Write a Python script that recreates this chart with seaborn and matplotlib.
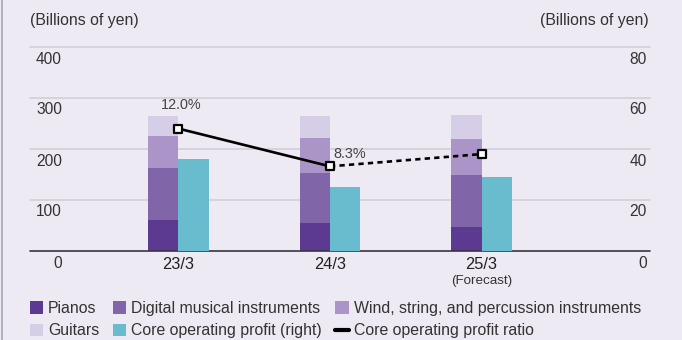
import matplotlib
matplotlib.use("Agg")
import matplotlib.pyplot as plt
from matplotlib.patches import Patch
from matplotlib.lines import Line2D
from matplotlib.transforms import offset_copy, blended_transform_factory
import numpy as np
import seaborn as sns

# Fiscal periods and segment revenue (billions of yen)
periods = ["23/3", "24/3", "25/3"]
pianos = [61, 55, 47]
digital = [102, 98, 103]
wind = [62, 69, 69]
guitars = [40, 43, 47]
# Core operating profit (billions of yen, right axis) and ratio (%)
core_profit = [36, 25, 29]
profit_ratio = [12.0, 8.3, 9.5]
ratio_labels = ["12.0%", "8.3%", None]

left_ticks = [0, 100, 200, 300, 400]
right_ticks = [0, 20, 40, 60, 80]

BG = "#edeaf3"
TEXT = "#333333"
C_PIANO = "#5c3a92"
C_DIGITAL = "#8065a8"
C_WIND = "#ab94c8"
C_GUITAR = "#d6cde6"
C_PROFIT = "#69bccd"
GRID = "#d3cfd9"

sns.set_theme(style="white")
plt.rcParams["font.family"] = ["Liberation Sans", "DejaVu Sans"]

fig = plt.figure(figsize=(6.82, 3.40), dpi=100, facecolor=BG)
ax = fig.add_axes([30 / 682, 1 - 251 / 340, 620 / 682, 204 / 340])
ax.set_facecolor(BG)
ax2 = ax.twinx()
ax3 = ax.twinx()

x = np.arange(len(periods))
x_stack = x - 0.1
x_profit = x + 0.1

# Stacked revenue bars: draw cumulative totals from the top segment down
cum1 = np.array(pianos)
cum2 = cum1 + np.array(digital)
cum3 = cum2 + np.array(wind)
cum4 = cum3 + np.array(guitars)
for vals, col in [(cum4, C_GUITAR), (cum3, C_WIND), (cum2, C_DIGITAL), (cum1, C_PIANO)]:
    sns.barplot(x=x_stack, y=vals, ax=ax, native_scale=True, width=0.2,
                color=col, saturation=1, errorbar=None, linewidth=0,
                edgecolor="none", zorder=2)

# Core operating profit bars on the right-hand scale
sns.barplot(x=x_profit, y=core_profit, ax=ax2, native_scale=True, width=0.2,
            color=C_PROFIT, saturation=1, errorbar=None, linewidth=0,
            edgecolor="none", zorder=2)

# Profit ratio line (actual solid, forecast dotted)
sns.lineplot(x=x[:2], y=profit_ratio[:2], ax=ax3, color="black", lw=1.9,
             sort=False, zorder=3)
sns.lineplot(x=x[1:], y=profit_ratio[1:], ax=ax3, color="black", lw=1.9,
             linestyle=(0, (2.0, 1.6)), sort=False, zorder=3)
sns.scatterplot(x=x, y=profit_ratio, ax=ax3, marker="s", s=40,
                facecolor="white", edgecolor="black", linewidth=1.6, zorder=4)

xlim = (-0.98, 3.112)
for a in (ax, ax2, ax3):
    a.set_xlim(*xlim)
    for s in a.spines.values():
        s.set_visible(False)
    a.tick_params(left=False, right=False, labelleft=False, labelright=False)
    a.set_ylabel("")
    a.set_xlabel("")
ax.set_ylim(0, 400)
ax2.set_ylim(0, 80)
ax3.set_ylim(0, 20)
ax3.set_yticks([])
ax2.set_yticks([])
ax.set_yticks([])

# Gridlines and baseline
for v in left_ticks[1:]:
    ax.axhline(v, color=GRID, lw=1.2, zorder=0, clip_on=False)
ax.axhline(0, color="#3a3540", lw=1.2, zorder=5, clip_on=False)

# Axis value labels sit just beneath each gridline
tl = blended_transform_factory(ax.transAxes, ax.transData)
tl_off = offset_copy(tl, fig=fig, x=0, y=-12, units="dots")
for v in left_ticks:
    ax.text(32 / 620, v, str(v), transform=tl_off, ha="right", va="center",
            fontsize=11.2, color=TEXT)
tr = blended_transform_factory(ax2.transAxes, ax2.transData)
tr_off = offset_copy(tr, fig=fig, x=0, y=-12, units="dots")
for v in right_ticks:
    ax2.text(617 / 620, v, str(v), transform=tr_off, ha="right", va="center",
             fontsize=11.2, color=TEXT)

# Period labels
ax.set_xticks(x)
ax.set_xticklabels(periods, fontsize=11.8, color="#222222")
ax.tick_params(axis="x", bottom=False, pad=-1.5)
for a in (ax2, ax3):
    a.tick_params(axis="x", bottom=False, labelbottom=False)
ax.text(2, 0, "(Forecast)", transform=offset_copy(ax.transData, fig=fig, x=0, y=-30, units="dots"),
        ha="center", va="center", fontsize=9.6, color=TEXT)

# Ratio annotations
ax3.text(x[0] + 0.02, profit_ratio[0], ratio_labels[0],
         transform=offset_copy(ax3.transData, fig=fig, x=0, y=24, units="dots"),
         ha="center", va="center", fontsize=10.4, color="#444444")
ax3.text(x[1] + 0.02, profit_ratio[1], ratio_labels[1],
         transform=offset_copy(ax3.transData, fig=fig, x=0, y=12, units="dots"),
         ha="left", va="center", fontsize=10.4, color="#444444")

# Unit captions
fig.text(30 / 682, 1 - 20 / 340, "(Billions of yen)", ha="left", va="center",
         fontsize=11.4, color=TEXT)
fig.text(649 / 682, 1 - 20 / 340, "(Billions of yen)", ha="right", va="center",
         fontsize=11.4, color=TEXT)

# Thin frame edge on the left
fig.add_artist(Line2D([1.5 / 682, 1.5 / 682], [0, 1], transform=fig.transFigure,
                      color="#aaa6b0", lw=1.2))

# Legend (column-major order for three columns)
handles = [
    Patch(facecolor=C_PIANO, edgecolor="none"),
    Patch(facecolor=C_GUITAR, edgecolor="none"),
    Patch(facecolor=C_DIGITAL, edgecolor="none"),
    Patch(facecolor=C_PROFIT, edgecolor="none"),
    Patch(facecolor=C_WIND, edgecolor="none"),
    Line2D([0], [0], color="black", lw=3),
]
labels = ["Pianos", "Guitars", "Digital musical instruments",
          "Core operating profit (right)",
          "Wind, string, and percussion instruments",
          "Core operating profit ratio"]
leg = fig.legend(handles, labels, ncol=3, loc="upper left",
                 bbox_to_anchor=(30 / 682, 1 - 301 / 340), frameon=False,
                 fontsize=11.4, handlelength=0.85, handleheight=0.85,
                 handletextpad=0.3, columnspacing=0.85, labelspacing=0.47,
                 borderpad=0, borderaxespad=0)
for t in leg.get_texts():
    t.set_color(TEXT)

fig.savefig("out.png", dpi=100, facecolor=BG)
